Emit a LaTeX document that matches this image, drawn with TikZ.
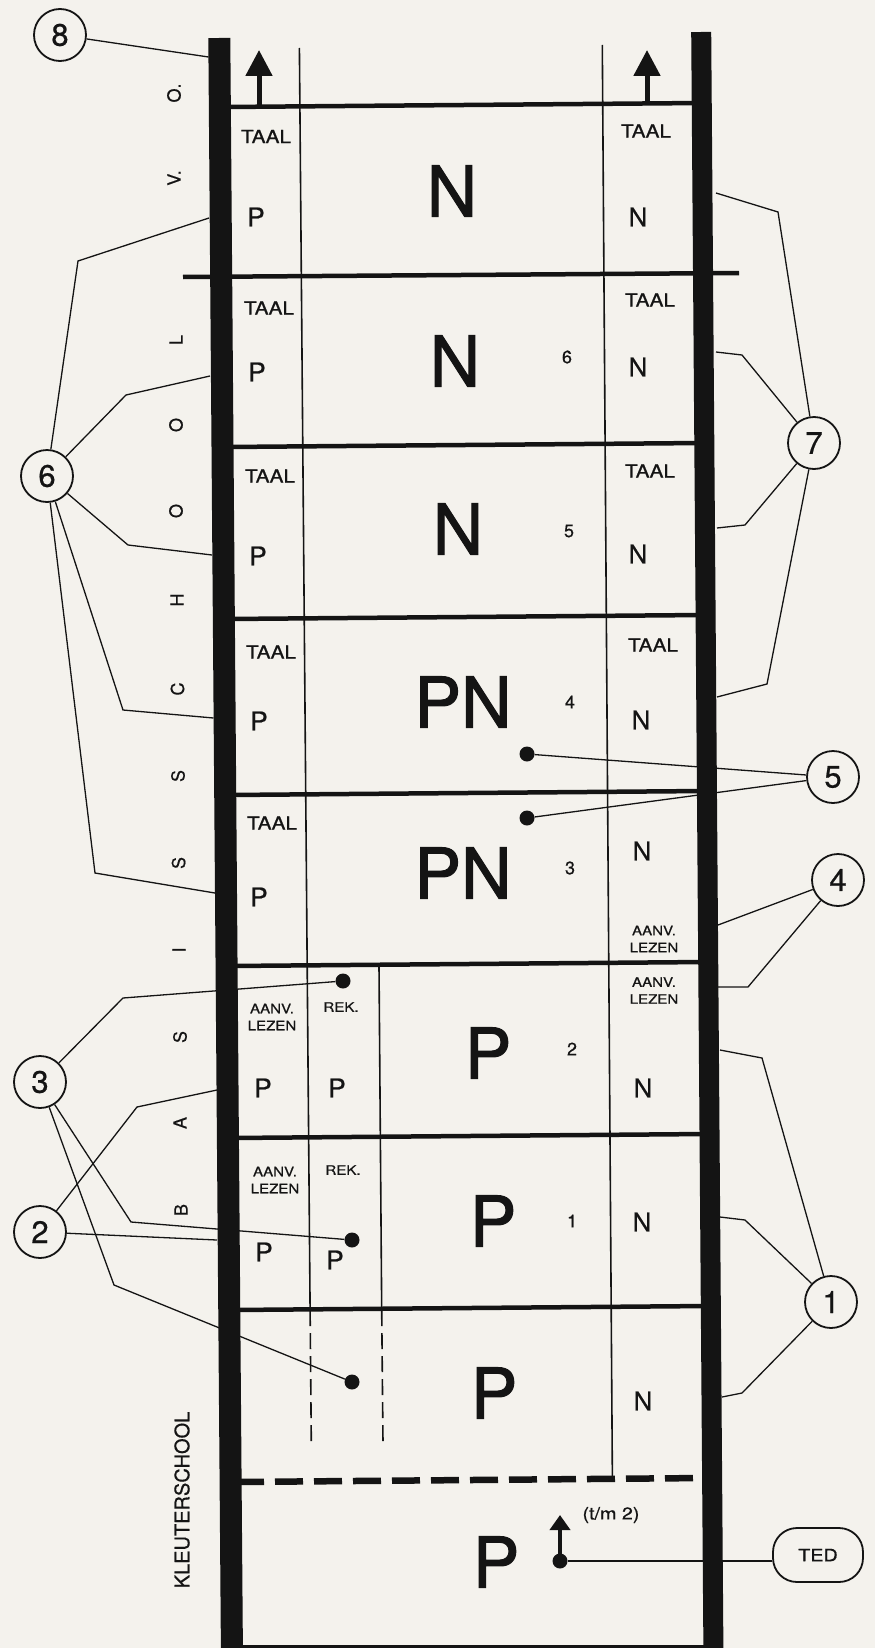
\documentclass[tikz,border=0pt]{standalone}
\usepackage{fontspec}
\setmainfont{TeX Gyre Heros}
\newfontfamily\wf[FakeStretch=1.16,FakeBold=0.8]{TeX Gyre Heros}
\newfontfamily\bigfont[FakeBold=1.5]{TeX Gyre Heros}
\newfontfamily\mf[FakeBold=0.6]{TeX Gyre Heros}
\usetikzlibrary{arrows.meta}
\definecolor{paper}{RGB}{244,242,237}
\definecolor{ink}{RGB}{20,20,20}
\newcommand\fs[1]{\fontsize{#1}{#1}\selectfont}
\begin{document}
\begin{tikzpicture}[x=1pt,y=-1pt,
  barline/.style={line width=#1, draw=ink},
  rowline/.style={line width=4.5pt, draw=ink},
  thin/.style={line width=1.6pt, draw=ink},
  dashv/.style={line width=1.6pt, draw=ink, dash pattern=on 16pt off 7pt},
  dashh/.style={line width=6.5pt, draw=ink, dash pattern=on 28pt off 11pt},
  conn/.style={line width=1.3pt, draw=ink},
  num/.style={circle, draw=ink, line width=1.8pt, minimum size=52pt, inner sep=0pt, font=\mf\fs{31}, text=ink},
  dot/.style={circle, fill=ink, inner sep=0pt, minimum size=15pt},
  taal/.style={inner sep=0pt, font=\wf\fs{18}, text=ink},
  sm/.style={inner sep=0pt, font=\wf\fontsize{13}{17}\selectfont, align=center, text=ink},
  mid/.style={inner sep=0pt, font=\mf\fs{26}, text=ink},
  big/.style={inner sep=0pt, font=\bigfont\fs{70}, text=ink},
  rn/.style={inner sep=0pt, font=\mf\fs{18}, text=ink},
  side/.style={inner sep=0pt, rotate=90, font=\mf\fs{18}, text=ink},
  uparrow/.style={line width=5pt, draw=ink, -{Triangle[length=26pt,width=26pt]}}
]
\fill[paper] (0,0) rectangle (875,1648);
\useasboundingbox (0,0) rectangle (875,1648);

% ---------- named points on bars and kinks ----------
\coordinate (b8) at (208.5,57);
\coordinate (k6a) at (78,261);   \coordinate (b6a) at (209,218);
\coordinate (k6b) at (126,395);  \coordinate (b6b) at (210,376);
\coordinate (k6c) at (128,545);  \coordinate (b6c) at (212,555);
\coordinate (k6d) at (123,710);  \coordinate (b6d) at (213.5,718);
\coordinate (k6e) at (95,873);   \coordinate (b6e) at (215,893);
\coordinate (k7a) at (778,212);  \coordinate (b7a) at (716,193);
\coordinate (k7b) at (742,355);  \coordinate (b7b) at (716,352);
\coordinate (k7c) at (745,525);  \coordinate (b7c) at (717,528);
\coordinate (k7d) at (767,684);  \coordinate (b7d) at (717,697);
\coordinate (b4a) at (718,925);
\coordinate (k4) at (748,987);   \coordinate (b4b) at (718,987);
\coordinate (k3a) at (123,998);
\coordinate (k3b) at (131,1222);
\coordinate (k3c) at (114,1285);
\coordinate (k2a) at (137,1107); \coordinate (b2a) at (217,1090);
\coordinate (b2b) at (217,1240);
\coordinate (k1a) at (762,1058); \coordinate (b1a) at (720,1050);
\coordinate (k1b) at (745,1220); \coordinate (b1b) at (720,1217);
\coordinate (k1c) at (742,1393); \coordinate (b1c) at (722,1397);

% ---------- thin vertical lines ----------
\draw[thin] (299.4,48) -- (310.1,1310);
\draw[dashv] (310.1,1310) -- (311.3,1443);
\draw[thin] (379,966) -- (381.7,1310);
\draw[dashv] (381.7,1310) -- (383,1443);
\draw[thin] (602.3,45) -- (612.4,1480);

% ---------- horizontal lines ----------
\draw[rowline] (226,107) -- (702,103);
\draw[rowline] (183,277) -- (739,273);
\draw[rowline] (227,447) -- (703,443);
\draw[rowline] (228,619) -- (704,615);
\draw[rowline] (229,795) -- (705,791);
\draw[rowline] (230,966) -- (706,962);
\draw[rowline] (231,1138) -- (707,1134);
\draw[rowline] (232,1310) -- (708,1306);
\draw[dashh] (236,1482) -- (706,1478);
\draw[line width=3pt, draw=ink] (232,1646) -- (710,1646);

% ---------- top arrows ----------
\coordinate (ta1) at (259,50);
\coordinate (ta2) at (647,50);
\draw[uparrow] (259,106) -- (ta1);
\draw[uparrow] (647,102) -- (ta2);

% ---------- side lettering ----------
\node[side] (sO) at (174,93) {O.};
\node[side] (sV) at (174,178) {V.};
\node[side] (sL) at (176,340) {L};
\node[side] (sO1) at (176,425) {O};
\node[side] (sO2) at (176,511) {O};
\node[side] (sH) at (177,600) {H};
\node[side] (sC) at (177.5,689) {C};
\node[side] (sS1) at (178,776) {S};
\node[side] (sS2) at (178.6,863) {S};
\node[side] (sI) at (179,950) {I};
\node[side] (sS3) at (180,1037) {S};
\node[side] (sA) at (180,1123) {A};
\node[side] (sB) at (181,1210) {B};
\node[side, font=\mf\fs{20}] (kleuter) at (182,1500) {KLEUTERSCHOOL};

% ---------- row contents ----------
% V.O.
\node[taal] (t0l) at (266,136.5) {TAAL};
\node[mid] (p0l) at (256,217) {P};
\node[big] (N0) at (452,191) {N};
\node[taal] (t0r) at (646,131) {TAAL};
\node[mid] (n0r) at (638,217) {N};
% 6
\node[taal] (t6l) at (269,308) {TAAL};
\node[mid] (p6l) at (257,372) {P};
\node[big] (N6) at (455,361) {N};
\node[rn] (r6) at (567,357) {6};
\node[taal] (t6r) at (650,300) {TAAL};
\node[mid] (n6r) at (638,367) {N};
% 5
\node[taal] (t5l) at (270,476) {TAAL};
\node[mid] (p5l) at (258,556) {P};
\node[big] (N5) at (458,529) {N};
\node[rn] (r5) at (569,531) {5};
\node[taal] (t5r) at (650,471) {TAAL};
\node[mid] (n5r) at (638,554) {N};
% 4
\node[taal] (t4l) at (271,652) {TAAL};
\node[mid] (p4l) at (259,721) {P};
\node[big] (PN4) at (463,702) {PN};
\node[rn] (r4) at (570,702) {4};
\node[taal] (t4r) at (653,645) {TAAL};
\node[mid] (n4r) at (641,720) {N};
% 3
\node[taal] (t3l) at (272,823) {TAAL};
\node[mid] (p3l) at (259,897) {P};
\node[big] (PN3) at (463,873) {PN};
\node[rn] (r3) at (570,868) {3};
\node[mid] (n3r) at (642,851) {N};
\node[sm] (a3r) at (654,939) {AANV.\\LEZEN};
% 2
\node[sm] (a2l) at (272,1017) {AANV.\\LEZEN};
\node[sm] (rek2) at (341,1007) {REK.};
\node[mid] (p2l) at (263,1088) {P};
\node[mid] (p2m) at (337,1088) {P};
\node[big] (P2) at (488,1053) {P};
\node[rn] (r2) at (572,1049) {2};
\node[sm] (a2r) at (654,990.5) {AANV.\\LEZEN};
\node[mid] (n2r) at (643,1088) {N};
% 1
\node[sm] (a1l) at (275,1180) {AANV.\\LEZEN};
\node[sm] (rek1) at (343,1170) {REK.};
\node[mid] (p1l) at (264,1252) {P};
\node[mid] (p1m) at (335,1260) {P};
\node[big] (P1) at (493,1221) {P};
\node[rn] (r1) at (572,1221) {1};
\node[mid] (n1r) at (642,1222) {N};
% 0
\node[big] (P0) at (494,1393) {P};
\node[mid] (n0b) at (643,1401) {N};
% kleuterschool
\node[big] (PK) at (496,1562) {P};
\node[inner sep=0pt, font=\wf\fs{17}, text=ink] (tm2) at (611,1515) {(t/m 2)};

% ---------- dots ----------
\node[dot] (d5a) at (527,754) {};
\node[dot] (d5b) at (527,818) {};
\node[dot] (d3a) at (343,981) {};
\node[dot] (d3b) at (352,1240) {};
\node[dot] (d3c) at (352,1382) {};
\node[dot] (dt) at (560,1561) {};
\coordinate (tk) at (560,1515);
\draw[line width=4pt, draw=ink, -{Triangle[length=15pt,width=20pt]}] (dt.center) -- (tk);

% ---------- callout circles ----------
\node[num] (c8) at (60,35) {8};
\node[num] (c6) at (47,476) {6};
\node[num] (c7) at (814,443) {7};
\node[num] (c5) at (833,777) {5};
\node[num] (c4) at (838,880) {4};
\node[num] (c3) at (40,1082) {3};
\node[num] (c2) at (40,1232) {2};
\node[num] (c1) at (831,1302) {1};
\node[draw=ink, line width=1.8pt, rounded corners=24pt, minimum width=90pt, minimum height=54pt, inner sep=0pt, font=\wf\fs{17}, text=ink] (ted) at (818,1555) {TED};

% ---------- connectors ----------
\draw[conn] (c8) -- (b8);
\draw[conn] (c6) -- (k6a) -- (b6a);
\draw[conn] (c6) -- (k6b) -- (b6b);
\draw[conn] (c6) -- (k6c) -- (b6c);
\draw[conn] (c6) -- (k6d) -- (b6d);
\draw[conn] (c6) -- (k6e) -- (b6e);
\draw[conn] (c7) -- (k7a) -- (b7a);
\draw[conn] (c7) -- (k7b) -- (b7b);
\draw[conn] (c7) -- (k7c) -- (b7c);
\draw[conn] (c7) -- (k7d) -- (b7d);
\draw[conn] (c5) -- (d5a);
\draw[conn] (c5) -- (d5b);
\draw[conn] (c4) -- (b4a);
\draw[conn] (c4) -- (k4) -- (b4b);
\draw[conn] (c3) -- (k3a) -- (d3a);
\draw[conn] (c3) -- (k3b) -- (d3b);
\draw[conn] (c3) -- (k3c) -- (d3c);
\draw[conn] (c2) -- (k2a) -- (b2a);
\draw[conn] (c2) -- (b2b);
\draw[conn] (c1) -- (k1a) -- (b1a);
\draw[conn] (c1) -- (k1b) -- (b1b);
\draw[conn] (c1) -- (k1c) -- (b1c);
\draw[conn] (dt) -- (dt -| ted.west);

% ---------- thick bars ----------
\draw[barline=22pt] (219.3,38) -- (231.9,1648);
\draw[barline=20pt] (701.2,32) -- (713.4,1648);
\end{tikzpicture}
\end{document}
